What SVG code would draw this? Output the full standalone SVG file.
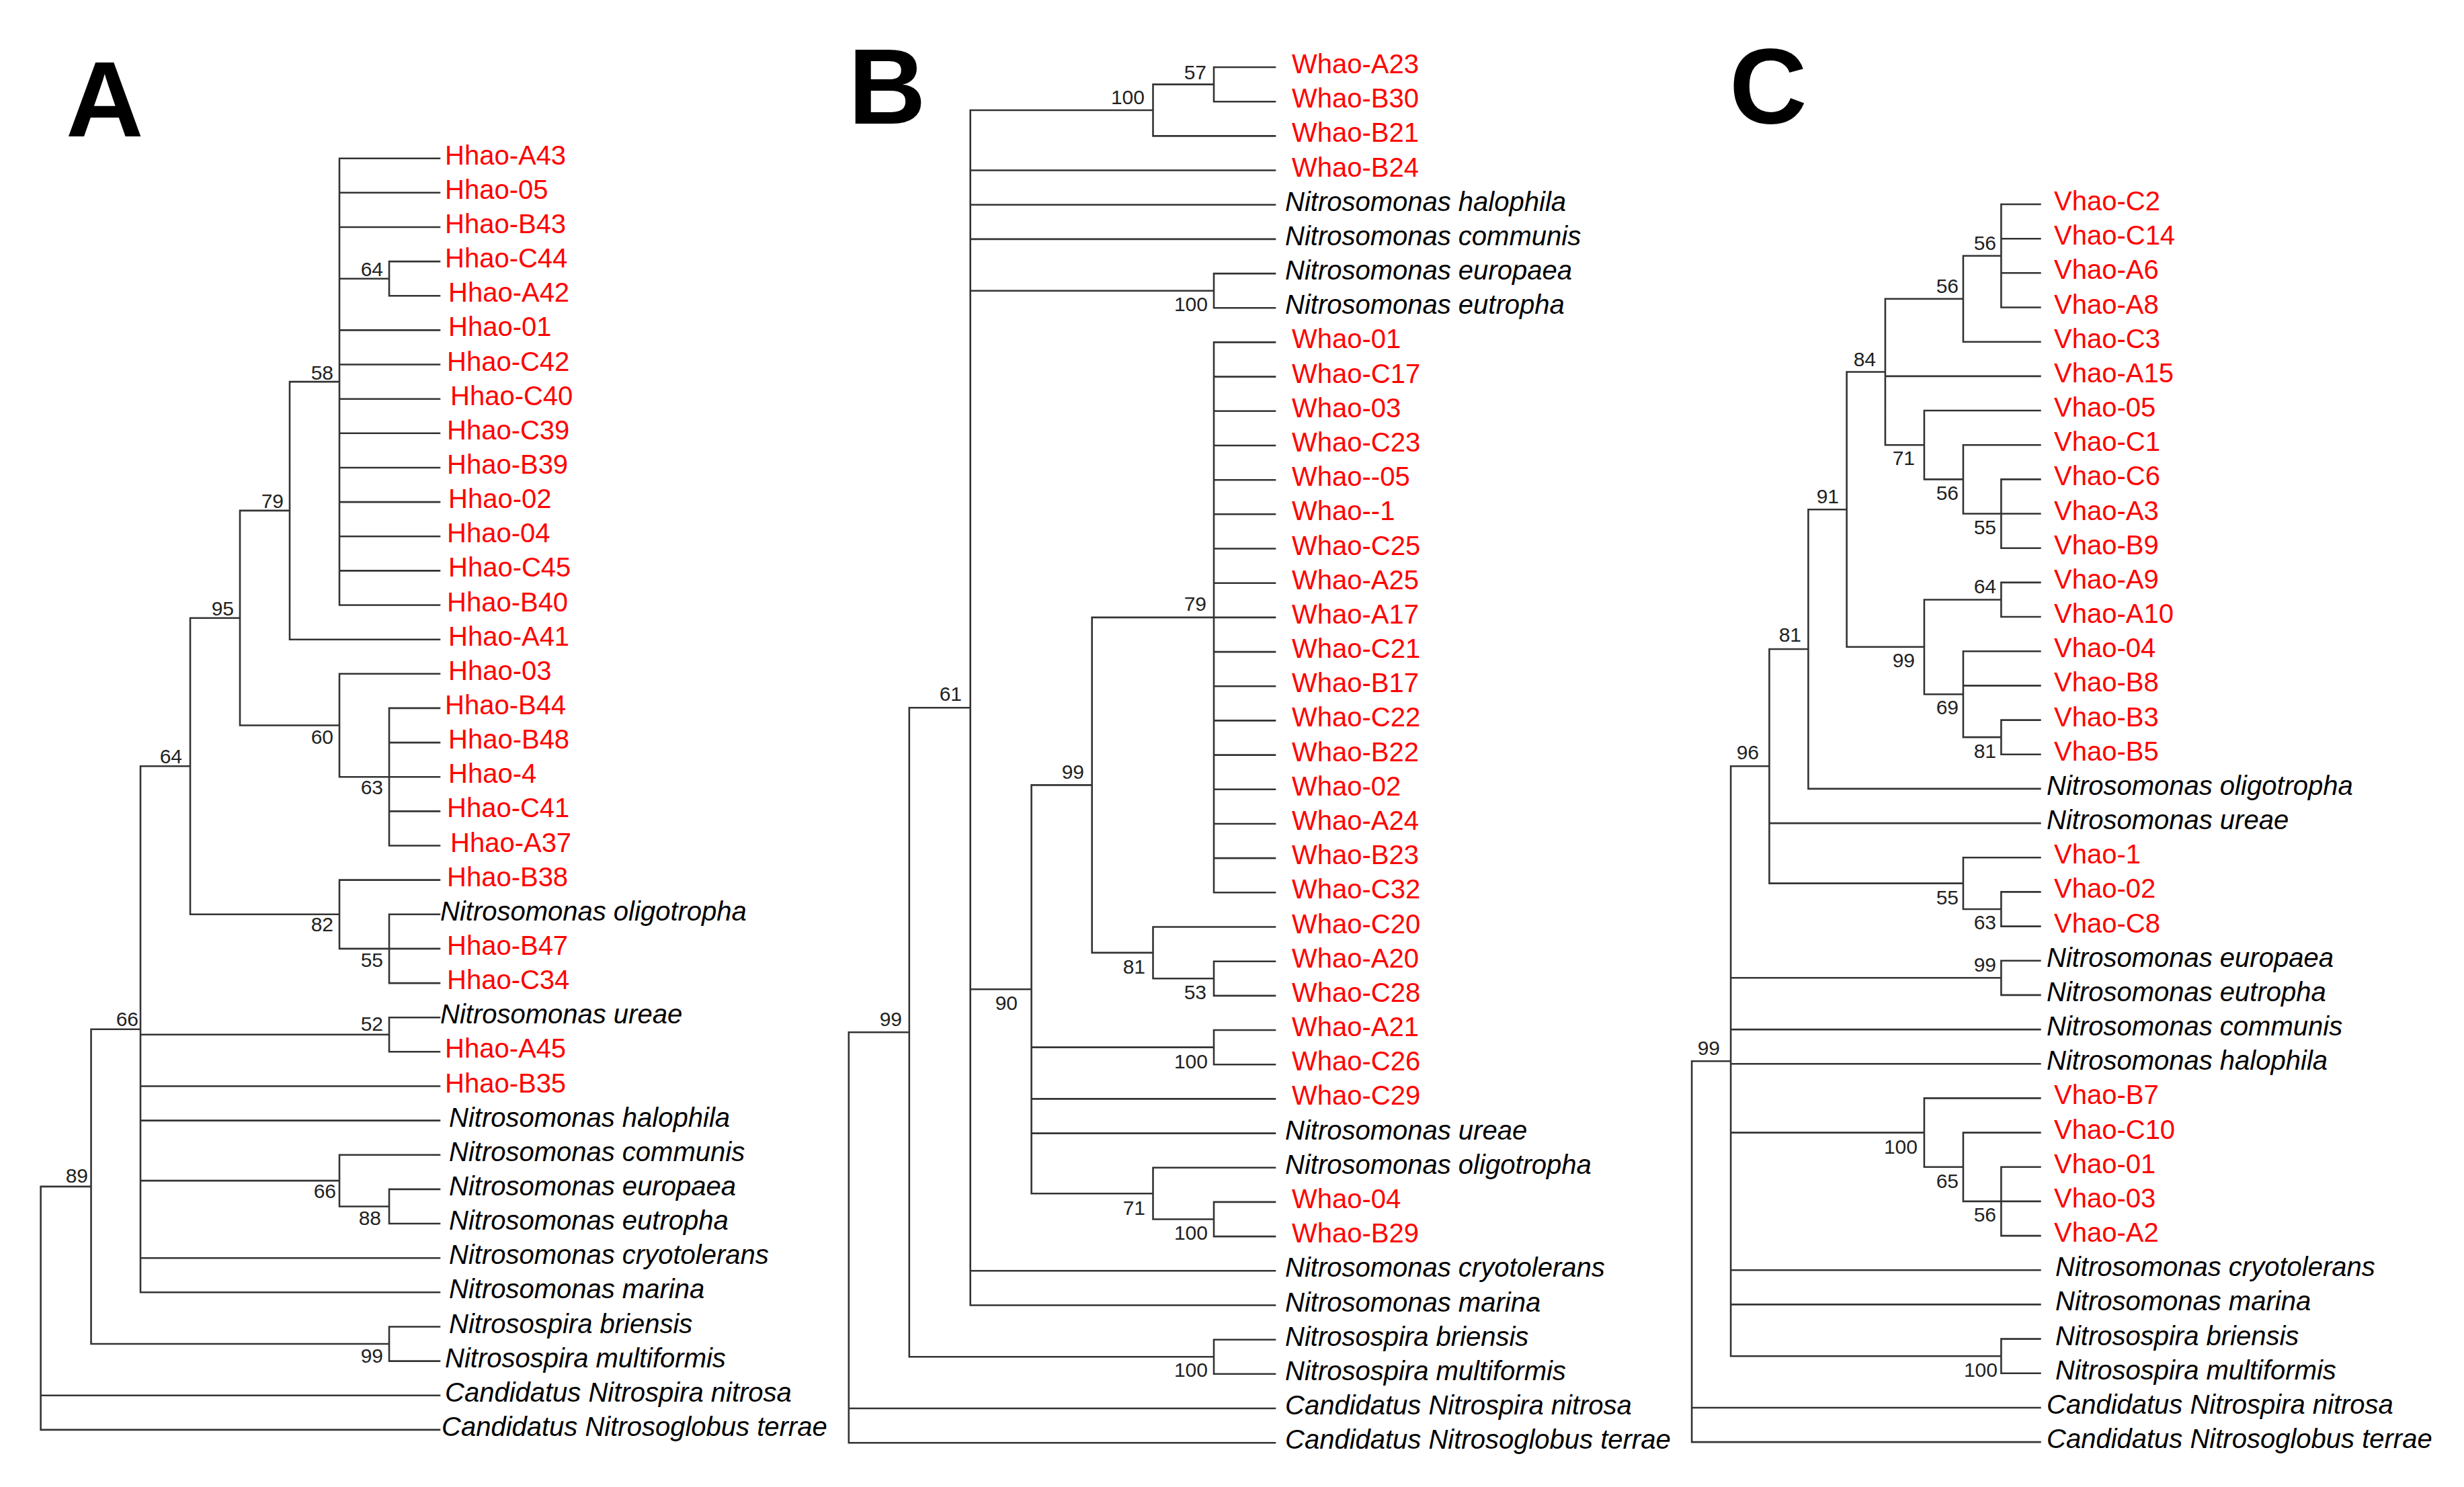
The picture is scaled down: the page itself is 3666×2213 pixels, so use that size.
<svg xmlns="http://www.w3.org/2000/svg" width="3666" height="2213" viewBox="0 0 3666 2213">
<style>
text{font-family:"Liberation Sans",Arial,sans-serif}
.p{font-size:160px;font-weight:bold;fill:#000}
.r{font-size:40px;fill:#ff0000}
.k{font-size:40px;font-style:italic;fill:#000}
.b{font-size:30px;fill:#222;text-anchor:end}
.e{fill:none;stroke:#333;stroke-width:2.6;stroke-linecap:square}
</style>
<rect width="3666" height="2213" fill="#fff"/>
<g id="panel-labels">
<text class="p" x="98" y="203">A</text>
<text class="p" x="1262" y="184">B</text>
<text class="p" x="2573" y="183">C</text>
</g>
<g id="connectors">
<path class="e" d="M505 235.7H654M505 286.8H654M505 338H654M579 389.1H654M579 440.3H654M505 491.4H654M505 542.5H654M505 593.7H654M505 644.8H654M505 696H654M505 747.1H654M505 798.2H654M505 849.4H654M505 900.5H654M431 951.7H654M505 1002.8H654M579 1053.9H654M579 1105.1H654M579 1156.2H654M579 1207.4H654M579 1258.5H654M505 1309.6H654M579 1360.8H654M579 1411.9H654M579 1463.1H654M579 1514.2H654M579 1565.3H654M209 1616.5H654M209 1667.6H654M505 1718.8H654M579 1769.9H654M579 1821H654M209 1872.2H654M209 1923.3H654M579 1974.5H654M579 2025.6H654M60.6 2076.7H654M60.6 2127.9H654
M505 414.7H579M431 568.1H505M357 759.9H431M505 1156.2H579M357 1079.5H505M283 919.7H357M505 1411.9H579M283 1360.8H505M209 1140.2H283M209 1539.8H579M209 1757.1H505M505 1795.5H579M135.5 1531.8H209M135.5 2000H579M60.6 1765.9H135.5
M579 389.1V440.3M579 1053.9V1258.5M579 1360.8V1463.1M579 1514.2V1565.3M579 1769.9V1821M579 1974.5V2025.6M505 235.7V900.5M505 1002.8V1156.2M505 1309.6V1411.9M505 1718.8V1795.5M431 568.1V951.7M357 759.9V1079.5M283 919.7V1360.8M209 1140.2V1923.3M135.5 1531.8V2000M60.6 1765.9V2127.9"/>
<path class="e" d="M1806 100H1897M1806 151.2H1897M1715.5 202.4H1897M1443.7 253.5H1897M1443.7 304.7H1897M1443.7 355.9H1897M1806 407.1H1897M1806 458.3H1897M1806 509.4H1897M1806 560.6H1897M1806 611.8H1897M1806 663H1897M1806 714.2H1897M1806 765.3H1897M1806 816.5H1897M1806 867.7H1897M1806 918.9H1897M1806 970.1H1897M1806 1021.2H1897M1806 1072.4H1897M1806 1123.6H1897M1806 1174.8H1897M1806 1226H1897M1806 1277.1H1897M1806 1328.3H1897M1715.5 1379.5H1897M1806 1430.7H1897M1806 1481.9H1897M1806 1533H1897M1806 1584.2H1897M1534.6 1635.4H1897M1534.6 1686.6H1897M1715.5 1737.8H1897M1806 1788.9H1897M1806 1840.1H1897M1443.7 1891.3H1897M1443.7 1942.5H1897M1806 1993.7H1897M1806 2044.8H1897M1262.8 2096H1897M1262.8 2147.2H1897
M1715.5 125.6H1806M1443.7 164H1715.5M1443.7 432.7H1806M1624.7 918.9H1806M1715.5 1456.3H1806M1624.7 1417.9H1715.5M1534.6 1168.4H1624.7M1534.6 1558.6H1806M1715.5 1814.5H1806M1534.6 1776.2H1715.5M1443.7 1472.3H1534.6M1352.8 1053.3H1443.7M1352.8 2019.3H1806M1262.8 1536.3H1352.8
M1806 100V151.2M1806 407.1V458.3M1806 509.4V1328.3M1806 1430.7V1481.9M1806 1533V1584.2M1806 1788.9V1840.1M1806 1993.7V2044.8M1715.5 125.6V202.4M1715.5 1379.5V1456.3M1715.5 1737.8V1814.5M1624.7 918.9V1417.9M1534.6 1168.4V1776.2M1443.7 164V1942.5M1352.8 1053.3V2019.3M1262.8 1536.3V2147.2"/>
<path class="e" d="M2977.4 304H3035.4M2977.4 355.2H3035.4M2977.4 406.3H3035.4M2977.4 457.5H3035.4M2920.9 508.7H3035.4M2804.9 559.9H3035.4M2862.9 611H3035.4M2920.9 662.2H3035.4M2977.4 713.4H3035.4M2977.4 764.5H3035.4M2977.4 815.7H3035.4M2977.4 866.9H3035.4M2977.4 918H3035.4M2920.9 969.2H3035.4M2920.9 1020.4H3035.4M2977.4 1071.6H3035.4M2977.4 1122.7H3035.4M2690.4 1173.9H3035.4M2632.4 1225.1H3035.4M2920.9 1276.2H3035.4M2977.4 1327.4H3035.4M2977.4 1378.6H3035.4M2977.4 1429.7H3035.4M2977.4 1480.9H3035.4M2575.1 1532.1H3035.4M2575.1 1583.3H3035.4M2862.9 1634.4H3035.4M2920.9 1685.6H3035.4M2977.4 1736.8H3035.4M2977.4 1787.9H3035.4M2977.4 1839.1H3035.4M2575.1 1890.3H3035.4M2575.1 1941.4H3035.4M2977.4 1992.6H3035.4M2977.4 2043.8H3035.4M2517.1 2095H3035.4M2517.1 2146.1H3035.4
M2920.9 380.8H2977.4M2804.9 444.7H2920.9M2920.9 764.5H2977.4M2862.9 713.4H2920.9M2804.9 662.2H2862.9M2747.6 553.5H2804.9M2862.9 892.5H2977.4M2920.9 1097.1H2977.4M2862.9 1033.2H2920.9M2747.6 962.8H2862.9M2690.4 758.2H2747.6M2632.4 966H2690.4M2920.9 1353H2977.4M2632.4 1314.6H2920.9M2575.1 1140.3H2632.4M2575.1 1455.3H2977.4M2920.9 1787.9H2977.4M2862.9 1736.8H2920.9M2575.1 1685.6H2862.9M2575.1 2018.2H2977.4M2517.1 1579.3H2575.1
M2977.4 304V457.5M2977.4 713.4V815.7M2977.4 866.9V918M2977.4 1071.6V1122.7M2977.4 1327.4V1378.6M2977.4 1429.7V1480.9M2977.4 1736.8V1839.1M2977.4 1992.6V2043.8M2920.9 380.8V508.7M2920.9 662.2V764.5M2920.9 969.2V1097.1M2920.9 1276.2V1353M2920.9 1685.6V1787.9M2862.9 611V713.4M2862.9 892.5V1033.2M2862.9 1634.4V1736.8M2804.9 444.7V662.2M2747.6 553.5V962.8M2690.4 758.2V1173.9M2632.4 966V1314.6M2575.1 1140.3V2018.2M2517.1 1579.3V2146.1"/>
</g>
<g id="treeA">
<g id="A-Hhao-A43"><text class="r" x="662" y="244.7">Hhao-A43</text></g>
<g id="A-Hhao-05"><text class="r" x="662" y="295.8">Hhao-05</text></g>
<g id="A-Hhao-B43"><text class="r" x="662" y="347">Hhao-B43</text></g>
<g id="A-Hhao-C44"><text class="r" x="662" y="398.1">Hhao-C44</text></g>
<g id="A-Hhao-A42"><text class="r" x="667" y="449.3">Hhao-A42</text></g>
<g id="A-Hhao-01"><text class="r" x="667" y="500.4">Hhao-01</text></g>
<g id="A-Hhao-C42"><text class="r" x="665" y="551.5">Hhao-C42</text></g>
<g id="A-Hhao-C40"><text class="r" x="670" y="602.7">Hhao-C40</text></g>
<g id="A-Hhao-C39"><text class="r" x="665" y="653.8">Hhao-C39</text></g>
<g id="A-Hhao-B39"><text class="r" x="665" y="705">Hhao-B39</text></g>
<g id="A-Hhao-02"><text class="r" x="667" y="756.1">Hhao-02</text></g>
<g id="A-Hhao-04"><text class="r" x="665" y="807.2">Hhao-04</text></g>
<g id="A-Hhao-C45"><text class="r" x="667" y="858.4">Hhao-C45</text></g>
<g id="A-Hhao-B40"><text class="r" x="665" y="909.5">Hhao-B40</text></g>
<g id="A-Hhao-A41"><text class="r" x="667" y="960.7">Hhao-A41</text></g>
<g id="A-Hhao-03"><text class="r" x="667" y="1011.8">Hhao-03</text></g>
<g id="A-Hhao-B44"><text class="r" x="662" y="1062.9">Hhao-B44</text></g>
<g id="A-Hhao-B48"><text class="r" x="667" y="1114.1">Hhao-B48</text></g>
<g id="A-Hhao-4"><text class="r" x="667" y="1165.2">Hhao-4</text></g>
<g id="A-Hhao-C41"><text class="r" x="665" y="1216.4">Hhao-C41</text></g>
<g id="A-Hhao-A37"><text class="r" x="670" y="1267.5">Hhao-A37</text></g>
<g id="A-Hhao-B38"><text class="r" x="665" y="1318.6">Hhao-B38</text></g>
<g id="A-N-oligotropha"><text class="k" x="655" y="1369.8">Nitrosomonas oligotropha</text></g>
<g id="A-Hhao-B47"><text class="r" x="665" y="1420.9">Hhao-B47</text></g>
<g id="A-Hhao-C34"><text class="r" x="665" y="1472.1">Hhao-C34</text></g>
<g id="A-N-ureae"><text class="k" x="655" y="1523.2">Nitrosomonas ureae</text></g>
<g id="A-Hhao-A45"><text class="r" x="662" y="1574.3">Hhao-A45</text></g>
<g id="A-Hhao-B35"><text class="r" x="662" y="1625.5">Hhao-B35</text></g>
<g id="A-N-halophila"><text class="k" x="668" y="1676.6">Nitrosomonas halophila</text></g>
<g id="A-N-communis"><text class="k" x="668" y="1727.8">Nitrosomonas communis</text></g>
<g id="A-N-europaea"><text class="k" x="668" y="1778.9">Nitrosomonas europaea</text></g>
<g id="A-N-eutropha"><text class="k" x="668" y="1830">Nitrosomonas eutropha</text></g>
<g id="A-N-cryotolerans"><text class="k" x="668" y="1881.2">Nitrosomonas cryotolerans</text></g>
<g id="A-N-marina"><text class="k" x="668" y="1932.3">Nitrosomonas marina</text></g>
<g id="A-Nsp-briensis"><text class="k" x="668" y="1983.5">Nitrosospira briensis</text></g>
<g id="A-Nsp-multiformis"><text class="k" x="662" y="2034.6">Nitrosospira multiformis</text></g>
<g id="A-C-nitrosa"><text class="k" x="662" y="2085.7">Candidatus Nitrospira nitrosa</text></g>
<g id="A-C-terrae"><text class="k" x="657" y="2136.9">Candidatus Nitrosoglobus terrae</text></g>
<g id="A-n58"><text class="b" x="496" y="565">58</text></g>
<g id="A-n64a"><text class="b" x="570" y="411">64</text></g>
<g id="A-n79"><text class="b" x="422" y="756">79</text></g>
<g id="A-n95"><text class="b" x="348" y="916">95</text></g>
<g id="A-n60"><text class="b" x="496" y="1107">60</text></g>
<g id="A-n63"><text class="b" x="570" y="1182">63</text></g>
<g id="A-n64b"><text class="b" x="271" y="1136">64</text></g>
<g id="A-n82"><text class="b" x="496" y="1386">82</text></g>
<g id="A-n55"><text class="b" x="570" y="1439">55</text></g>
<g id="A-n52"><text class="b" x="570" y="1534">52</text></g>
<g id="A-n66b"><text class="b" x="206" y="1527">66</text></g>
<g id="A-n66s"><text class="b" x="500" y="1783">66</text></g>
<g id="A-n88"><text class="b" x="567" y="1823">88</text></g>
<g id="A-n99"><text class="b" x="570" y="2028">99</text></g>
<g id="A-n89"><text class="b" x="131" y="1760">89</text></g>
</g>
<g id="treeB">
<g id="B-Whao-A23"><text class="r" x="1922" y="109">Whao-A23</text></g>
<g id="B-Whao-B30"><text class="r" x="1922" y="160.2">Whao-B30</text></g>
<g id="B-Whao-B21"><text class="r" x="1922" y="211.4">Whao-B21</text></g>
<g id="B-Whao-B24"><text class="r" x="1922" y="262.5">Whao-B24</text></g>
<g id="B-N-halophila"><text class="k" x="1912" y="313.7">Nitrosomonas halophila</text></g>
<g id="B-N-communis"><text class="k" x="1912" y="364.9">Nitrosomonas communis</text></g>
<g id="B-N-europaea"><text class="k" x="1912" y="416.1">Nitrosomonas europaea</text></g>
<g id="B-N-eutropha"><text class="k" x="1912" y="467.3">Nitrosomonas eutropha</text></g>
<g id="B-Whao-01"><text class="r" x="1922" y="518.4">Whao-01</text></g>
<g id="B-Whao-C17"><text class="r" x="1922" y="569.6">Whao-C17</text></g>
<g id="B-Whao-03"><text class="r" x="1922" y="620.8">Whao-03</text></g>
<g id="B-Whao-C23"><text class="r" x="1922" y="672">Whao-C23</text></g>
<g id="B-Whao--05"><text class="r" x="1922" y="723.2">Whao--05</text></g>
<g id="B-Whao--1"><text class="r" x="1922" y="774.3">Whao--1</text></g>
<g id="B-Whao-C25"><text class="r" x="1922" y="825.5">Whao-C25</text></g>
<g id="B-Whao-A25"><text class="r" x="1922" y="876.7">Whao-A25</text></g>
<g id="B-Whao-A17"><text class="r" x="1922" y="927.9">Whao-A17</text></g>
<g id="B-Whao-C21"><text class="r" x="1922" y="979.1">Whao-C21</text></g>
<g id="B-Whao-B17"><text class="r" x="1922" y="1030.2">Whao-B17</text></g>
<g id="B-Whao-C22"><text class="r" x="1922" y="1081.4">Whao-C22</text></g>
<g id="B-Whao-B22"><text class="r" x="1922" y="1132.6">Whao-B22</text></g>
<g id="B-Whao-02"><text class="r" x="1922" y="1183.8">Whao-02</text></g>
<g id="B-Whao-A24"><text class="r" x="1922" y="1235">Whao-A24</text></g>
<g id="B-Whao-B23"><text class="r" x="1922" y="1286.1">Whao-B23</text></g>
<g id="B-Whao-C32"><text class="r" x="1922" y="1337.3">Whao-C32</text></g>
<g id="B-Whao-C20"><text class="r" x="1922" y="1388.5">Whao-C20</text></g>
<g id="B-Whao-A20"><text class="r" x="1922" y="1439.7">Whao-A20</text></g>
<g id="B-Whao-C28"><text class="r" x="1922" y="1490.9">Whao-C28</text></g>
<g id="B-Whao-A21"><text class="r" x="1922" y="1542">Whao-A21</text></g>
<g id="B-Whao-C26"><text class="r" x="1922" y="1593.2">Whao-C26</text></g>
<g id="B-Whao-C29"><text class="r" x="1922" y="1644.4">Whao-C29</text></g>
<g id="B-N-ureae"><text class="k" x="1912" y="1695.6">Nitrosomonas ureae</text></g>
<g id="B-N-oligotropha"><text class="k" x="1912" y="1746.8">Nitrosomonas oligotropha</text></g>
<g id="B-Whao-04"><text class="r" x="1922" y="1797.9">Whao-04</text></g>
<g id="B-Whao-B29"><text class="r" x="1922" y="1849.1">Whao-B29</text></g>
<g id="B-N-cryotolerans"><text class="k" x="1912" y="1900.3">Nitrosomonas cryotolerans</text></g>
<g id="B-N-marina"><text class="k" x="1912" y="1951.5">Nitrosomonas marina</text></g>
<g id="B-Nsp-briensis"><text class="k" x="1912" y="2002.7">Nitrosospira briensis</text></g>
<g id="B-Nsp-multiformis"><text class="k" x="1912" y="2053.8">Nitrosospira multiformis</text></g>
<g id="B-C-nitrosa"><text class="k" x="1912" y="2105">Candidatus Nitrospira nitrosa</text></g>
<g id="B-C-terrae"><text class="k" x="1912" y="2156.2">Candidatus Nitrosoglobus terrae</text></g>
<g id="B-n57"><text class="b" x="1795" y="118">57</text></g>
<g id="B-n100a"><text class="b" x="1703" y="155">100</text></g>
<g id="B-n100b"><text class="b" x="1797" y="463">100</text></g>
<g id="B-n79"><text class="b" x="1795" y="909">79</text></g>
<g id="B-n61"><text class="b" x="1431" y="1043">61</text></g>
<g id="B-n99"><text class="b" x="1613" y="1159">99</text></g>
<g id="B-n81"><text class="b" x="1704" y="1449">81</text></g>
<g id="B-n53"><text class="b" x="1795" y="1487">53</text></g>
<g id="B-n90"><text class="b" x="1514" y="1503">90</text></g>
<g id="B-n100c"><text class="b" x="1797" y="1590">100</text></g>
<g id="B-n71"><text class="b" x="1704" y="1808">71</text></g>
<g id="B-n100d"><text class="b" x="1797" y="1845">100</text></g>
<g id="B-n100e"><text class="b" x="1797" y="2049">100</text></g>
<g id="B-n99b"><text class="b" x="1342" y="1527">99</text></g>
</g>
<g id="treeC">
<g id="C-Vhao-C2"><text class="r" x="3056" y="313">Vhao-C2</text></g>
<g id="C-Vhao-C14"><text class="r" x="3056" y="364.2">Vhao-C14</text></g>
<g id="C-Vhao-A6"><text class="r" x="3056" y="415.3">Vhao-A6</text></g>
<g id="C-Vhao-A8"><text class="r" x="3056" y="466.5">Vhao-A8</text></g>
<g id="C-Vhao-C3"><text class="r" x="3056" y="517.7">Vhao-C3</text></g>
<g id="C-Vhao-A15"><text class="r" x="3056" y="568.9">Vhao-A15</text></g>
<g id="C-Vhao-05"><text class="r" x="3056" y="620">Vhao-05</text></g>
<g id="C-Vhao-C1"><text class="r" x="3056" y="671.2">Vhao-C1</text></g>
<g id="C-Vhao-C6"><text class="r" x="3056" y="722.4">Vhao-C6</text></g>
<g id="C-Vhao-A3"><text class="r" x="3056" y="773.5">Vhao-A3</text></g>
<g id="C-Vhao-B9"><text class="r" x="3056" y="824.7">Vhao-B9</text></g>
<g id="C-Vhao-A9"><text class="r" x="3056" y="875.9">Vhao-A9</text></g>
<g id="C-Vhao-A10"><text class="r" x="3056" y="927">Vhao-A10</text></g>
<g id="C-Vhao-04"><text class="r" x="3056" y="978.2">Vhao-04</text></g>
<g id="C-Vhao-B8"><text class="r" x="3056" y="1029.4">Vhao-B8</text></g>
<g id="C-Vhao-B3"><text class="r" x="3056" y="1080.6">Vhao-B3</text></g>
<g id="C-Vhao-B5"><text class="r" x="3056" y="1131.7">Vhao-B5</text></g>
<g id="C-N-oligotropha"><text class="k" x="3045" y="1182.9">Nitrosomonas oligotropha</text></g>
<g id="C-N-ureae"><text class="k" x="3045" y="1234.1">Nitrosomonas ureae</text></g>
<g id="C-Vhao-1"><text class="r" x="3056" y="1285.2">Vhao-1</text></g>
<g id="C-Vhao-02"><text class="r" x="3056" y="1336.4">Vhao-02</text></g>
<g id="C-Vhao-C8"><text class="r" x="3056" y="1387.6">Vhao-C8</text></g>
<g id="C-N-europaea"><text class="k" x="3045" y="1438.7">Nitrosomonas europaea</text></g>
<g id="C-N-eutropha"><text class="k" x="3045" y="1489.9">Nitrosomonas eutropha</text></g>
<g id="C-N-communis"><text class="k" x="3045" y="1541.1">Nitrosomonas communis</text></g>
<g id="C-N-halophila"><text class="k" x="3045" y="1592.3">Nitrosomonas halophila</text></g>
<g id="C-Vhao-B7"><text class="r" x="3056" y="1643.4">Vhao-B7</text></g>
<g id="C-Vhao-C10"><text class="r" x="3056" y="1694.6">Vhao-C10</text></g>
<g id="C-Vhao-01"><text class="r" x="3056" y="1745.8">Vhao-01</text></g>
<g id="C-Vhao-03"><text class="r" x="3056" y="1796.9">Vhao-03</text></g>
<g id="C-Vhao-A2"><text class="r" x="3056" y="1848.1">Vhao-A2</text></g>
<g id="C-N-cryotolerans"><text class="k" x="3058" y="1899.3">Nitrosomonas cryotolerans</text></g>
<g id="C-N-marina"><text class="k" x="3058" y="1950.4">Nitrosomonas marina</text></g>
<g id="C-Nsp-briensis"><text class="k" x="3058" y="2001.6">Nitrosospira briensis</text></g>
<g id="C-Nsp-multiformis"><text class="k" x="3058" y="2052.8">Nitrosospira multiformis</text></g>
<g id="C-C-nitrosa"><text class="k" x="3045" y="2104">Candidatus Nitrospira nitrosa</text></g>
<g id="C-C-terrae"><text class="k" x="3045" y="2155.1">Candidatus Nitrosoglobus terrae</text></g>
<g id="C-n56a"><text class="b" x="2970" y="372">56</text></g>
<g id="C-n56b"><text class="b" x="2914" y="436">56</text></g>
<g id="C-n84"><text class="b" x="2791" y="545">84</text></g>
<g id="C-n71"><text class="b" x="2849" y="692">71</text></g>
<g id="C-n56c"><text class="b" x="2914" y="744">56</text></g>
<g id="C-n55"><text class="b" x="2970" y="795">55</text></g>
<g id="C-n91"><text class="b" x="2736" y="749">91</text></g>
<g id="C-n64"><text class="b" x="2970" y="883">64</text></g>
<g id="C-n99"><text class="b" x="2849" y="993">99</text></g>
<g id="C-n69"><text class="b" x="2914" y="1063">69</text></g>
<g id="C-n81s"><text class="b" x="2970" y="1128">81</text></g>
<g id="C-n81b"><text class="b" x="2680" y="955">81</text></g>
<g id="C-n96"><text class="b" x="2617" y="1130">96</text></g>
<g id="C-n55b"><text class="b" x="2914" y="1346">55</text></g>
<g id="C-n63"><text class="b" x="2970" y="1383">63</text></g>
<g id="C-n99eu"><text class="b" x="2970" y="1446">99</text></g>
<g id="C-n100a"><text class="b" x="2853" y="1717">100</text></g>
<g id="C-n65"><text class="b" x="2914" y="1768">65</text></g>
<g id="C-n56d"><text class="b" x="2970" y="1818">56</text></g>
<g id="C-n100b"><text class="b" x="2972" y="2049">100</text></g>
<g id="C-n99b"><text class="b" x="2559" y="1570">99</text></g>
</g>
</svg>
